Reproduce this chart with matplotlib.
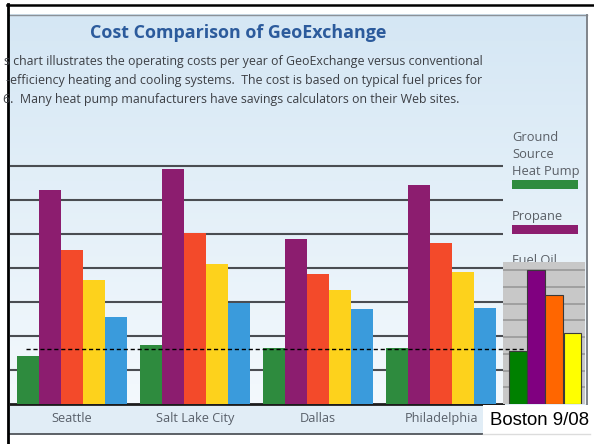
import matplotlib
matplotlib.use("Agg")
import matplotlib.pyplot as plt
import numpy as np
from matplotlib.patches import Rectangle
from matplotlib.lines import Line2D

# ---------------- data ----------------
cities = ["Seattle", "Salt Lake City", "Dallas", "Philadelphia"]
ground_source = [1.42, 1.73, 1.66, 1.66]
propane = [6.28, 6.90, 4.84, 6.43]
fuel_oil = [4.53, 5.04, 3.82, 4.74]
system_4 = [3.65, 4.12, 3.34, 3.88]
system_5 = [2.56, 2.98, 2.80, 2.81]
series_colors = ["#2e8b3e", "#8c1d6f", "#f34a2a", "#fdd21c", "#3a9bdc"]
legend_labels = ["Ground\nSource\nHeat Pump", "Propane", "Fuel Oil"]

boston_values = [3.19, 8.02, 6.53, 4.27]
boston_colors = ["#008000", "#800080", "#ff6600", "#ffff00"]
boston_label = "Boston 9/08"
reference_level = 1.61

title = "Cost Comparison of GeoExchange"
body_lines = [
    "s chart illustrates the operating costs per year of GeoExchange versus conventional",
    "-efficiency heating and cooling systems.  The cost is based on typical fuel prices for",
    "6.  Many heat pump manufacturers have savings calculators on their Web sites.",
]

# ---------------- layout helpers (pixels) ----------------
W, H = 594, 444


def frame(x0, y0, x1, y1):
    return [x0 / W, 1 - y1 / H, (x1 - x0) / W, (y1 - y0) / H]


fig = plt.figure(figsize=(W / 100, H / 100), dpi=100)
fig.patch.set_facecolor("white")
ui_font = "Open Sans"

# ---------------- page background ----------------
bg = fig.add_axes([0, 0, 1, 1], zorder=-5)
bg.axis("off")
top_c = np.array([0.835, 0.905, 0.958])
bot_c = np.array([0.955, 0.976, 0.992])
g = np.linspace(0, 1, 256)[:, None, None]
grad = top_c * (1 - g) + bot_c * g
bg.imshow(grad, extent=(9, 587, 404, 15), aspect="auto", interpolation="bilinear")
bg.add_patch(Rectangle((9, 404), 578, 30, facecolor="#e1edf6", edgecolor="none"))
bg.plot([9, 587], [15.5, 15.5], color="#8c9198", lw=1.0)
bg.plot([586.5, 586.5], [15, 434], color="#7f848a", lw=1.4)
bg.plot([9, 587], [434, 434], color="#50555a", lw=1.3)
bg.plot([7, 594], [5, 5], color="black", lw=1.8)
bg.plot([8, 8], [4, 444], color="black", lw=2.0)
bg.set_xlim(0, W)
bg.set_ylim(H, 0)

# ---------------- heading text ----------------
fig.text(238 / W, 1 - 37.5 / H, title, ha="center", va="baseline",
         fontsize=12.9, fontweight="bold", color="#2c5b9c", family=ui_font)

for line, base, start in zip(body_lines, [65, 84, 103], [3.5, 5.5, 3]):
    fig.text(start / W, 1 - base / H, line, va="baseline", fontsize=8.9,
             family=ui_font, color="#3c3f44")

# ---------------- main bar chart ----------------
ax = fig.add_axes(frame(10, 132, 503, 404))
ax.set_facecolor("none")
series = [ground_source, propane, fuel_oil, system_4, system_5]
x = np.arange(len(cities))
width = 0.1785
for i, (vals, col) in enumerate(zip(series, series_colors)):
    ax.bar(x + (i - 2) * width, vals, width, color=col, linewidth=0, zorder=3)

ax.set_xlim(-0.5, 3.5)
ax.set_ylim(0, 8)
ax.set_yticks(range(1, 8))
ax.yaxis.grid(True, color="#4a4d52", lw=1.5)
ax.set_axisbelow(True)
ax.tick_params(axis="y", length=0, labelleft=False)
ax.set_xticks(x, cities)
ax.tick_params(axis="x", length=0, pad=6, labelsize=9.2, labelcolor="#59606a")
for lab in ax.get_xticklabels():
    lab.set_fontfamily(ui_font)
for s in ["left", "right", "top"]:
    ax.spines[s].set_visible(False)
ax.spines["bottom"].set_color("#1c1c1c")
ax.spines["bottom"].set_linewidth(2.0)

# ---------------- legend ----------------
y = 137
for label, col in zip(legend_labels, series_colors):
    rows = label.split("\n")
    for r in rows:
        fig.text(512 / W, 1 - y / H, r, va="center", fontsize=9.3,
                 family=ui_font, color="#5a5f66", zorder=1)
        y += 17
    y -= 17
    fig.add_artist(Rectangle((512 / W, 1 - (y + 18) / H), 66 / W, 9 / H,
                             transform=fig.transFigure, facecolor=col,
                             edgecolor="none", zorder=1))
    y += 9 + 9 + 27

# ---------------- Boston inset ----------------
ins = fig.add_axes(frame(503, 262, 585, 404), zorder=4)
ins.set_facecolor("#c8c8c8")
bx = np.arange(len(boston_values))
ins.bar(bx, boston_values, 0.96, color=boston_colors, edgecolor="#3a3a3a",
        linewidth=0.8, zorder=3)
ins.set_xlim(-0.83, 3.71)
ins.set_ylim(0, 8.5)
ins.set_yticks(range(1, 9))
ins.yaxis.grid(True, color="#9c9c9c", lw=1.3)
ins.set_axisbelow(True)
ins.tick_params(length=0, labelleft=False, labelbottom=False)
for s in ins.spines.values():
    s.set_visible(False)

# level of the ground source system carried across to the inset
fig.add_artist(Line2D([-0.37, 3.68], [reference_level, reference_level],
                      transform=ax.transData, color="black", lw=1.0,
                      ls=(0, (3, 2)), zorder=6))

# ---------------- Boston caption ----------------
fig.add_artist(Rectangle((483 / W, 1 - 434.5 / H), 111 / W, 29.5 / H,
                         transform=fig.transFigure, facecolor="white",
                         edgecolor="none", zorder=7))
fig.add_artist(Line2D([483 / W, 590 / W], [1 - 434 / H, 1 - 434 / H],
                      transform=fig.transFigure, color="#dcdcdc", lw=1, zorder=7))
fig.text(490 / W, 1 - 425.3 / H, boston_label, va="baseline", fontsize=13.4,
         family="Liberation Sans", color="black", zorder=8)

fig.savefig("out.png", dpi=100)
